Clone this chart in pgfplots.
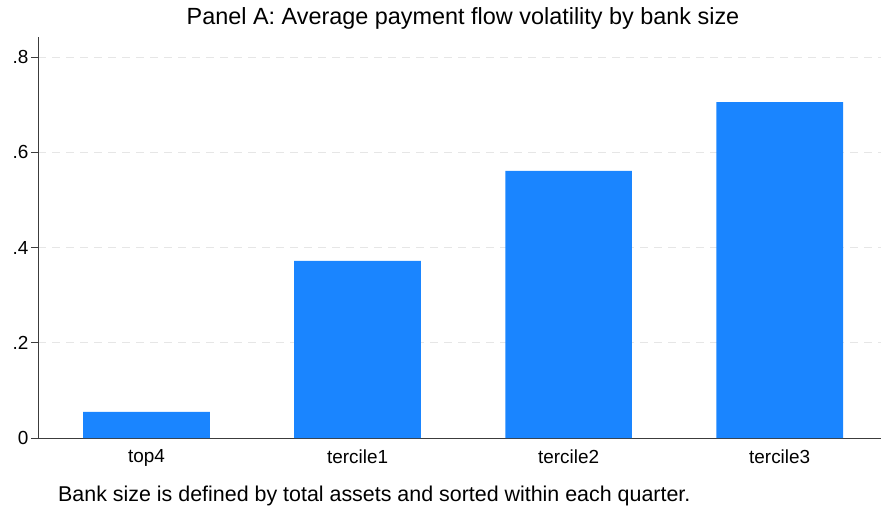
\documentclass[border=0pt]{standalone}
\usepackage{fontspec}
\setmainfont{Liberation Sans}
\usepackage{pgfplots}
\pgfplotsset{compat=1.18}
\definecolor{barblue}{HTML}{1A85FF}
\definecolor{axisgray}{HTML}{3C3C3C}
\definecolor{gridgray}{HTML}{E6E6E6}
\begin{document}
\begin{tikzpicture}
\path[use as bounding box] (0,0) rectangle (881bp,511bp);
\begin{axis}[
  at={(38bp,73bp)}, anchor=south west,
  scale only axis, width=843bp, height=401bp,
  xmin=-0.514, xmax=3.48, ymin=0, ymax=0.842,
  axis x line*=bottom, axis y line*=left,
  axis line style={-, axisgray, line width=0.9bp},
  xtick={0,1,2,3},
  xticklabels={top4,tercile1,tercile2,tercile3},
  x tick style={draw=none},
  ytick={0,0.2,0.4,0.6,0.8},
  yticklabels={0,.2,.4,.6,.8},
  y tick style={axisgray, line width=0.9bp},
  tick align=outside, major tick length=7bp,
  ymajorgrids,
  grid style={gridgray, line width=0.9bp, dash pattern=on 8bp off 6bp},
  ticklabel style={font=\fontsize{19}{19}\selectfont, text=black},
  /pgf/number format/assume math mode=true,
  xticklabel style={yshift=-1bp},
  yticklabel style={xshift=1bp},
  ybar, bar width=0.6,
  clip=false,
]
\addplot[fill=barblue, draw=none] coordinates {(0,0.0546) (1,0.372) (2,0.561) (3,0.7055)};
\end{axis}
\node[font=\fontsize{23.5}{23.5}\selectfont, anchor=center] at (463bp,493bp) {Panel A: Average payment flow volatility by bank size};
\node[font=\fontsize{21.5}{21.5}\selectfont, anchor=base west, inner sep=0pt] at (58bp,10bp) {Bank size is defined by total assets and sorted within each quarter.};
\end{tikzpicture}
\end{document}
